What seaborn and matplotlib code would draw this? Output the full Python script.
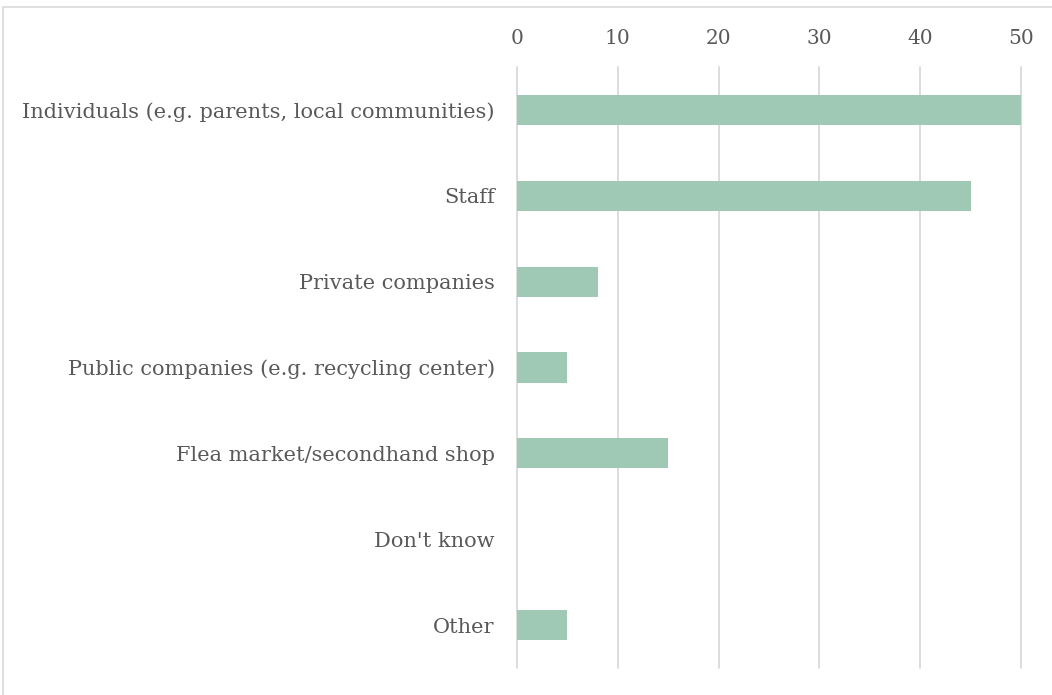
import matplotlib
matplotlib.use("Agg")
import matplotlib.pyplot as plt
import seaborn as sns
import pandas as pd
from matplotlib.patches import Rectangle

categories = ["Individuals (e.g. parents, local communities)", "Staff", "Private companies",
              "Public companies (e.g. recycling center)", "Flea market/secondhand shop",
              "Don't know", "Other"]
values = [50, 45, 8, 5, 15, 0, 5]
ticks = [0, 10, 20, 30, 40, 50]

sns.set_theme(style="white")
plt.rcParams['font.family'] = ['DejaVu Serif']

df = pd.DataFrame({"cat": categories, "val": values})

fig = plt.figure(figsize=(10.52, 6.95), dpi=100)
ax = fig.add_axes([517/1052, 1-668/695, (1021-517)/1052, (668-67)/695])
sns.barplot(data=df, x="val", y="cat", orient="h", color="#9fc9b5", saturation=1,
            width=0.35, ax=ax, zorder=3, linewidth=0)
ax.set_xlim(0, 50)
ax.set_ylim(6.5, -0.5)
ax.set_xticks(ticks)
ax.xaxis.tick_top()
ax.tick_params(axis="x", length=0, pad=14, labelsize=14.5, colors="#595959")
ax.tick_params(axis="y", length=0, pad=16, labelsize=15, colors="#595959")
for t in ticks:
    ax.axvline(t, color="#d9d9d9", lw=1.3, zorder=1, clip_on=False)
ax.set_xlabel("")
ax.set_ylabel("")
for s in ax.spines.values():
    s.set_visible(False)

fig.patches.append(Rectangle((3/1052, -0.1), 1.2, 1 - 7/695 + 0.1, transform=fig.transFigure,
                             fill=False, edgecolor="#d9d9d9", lw=1.2))
fig.savefig("out.png", dpi=100, facecolor="white")
